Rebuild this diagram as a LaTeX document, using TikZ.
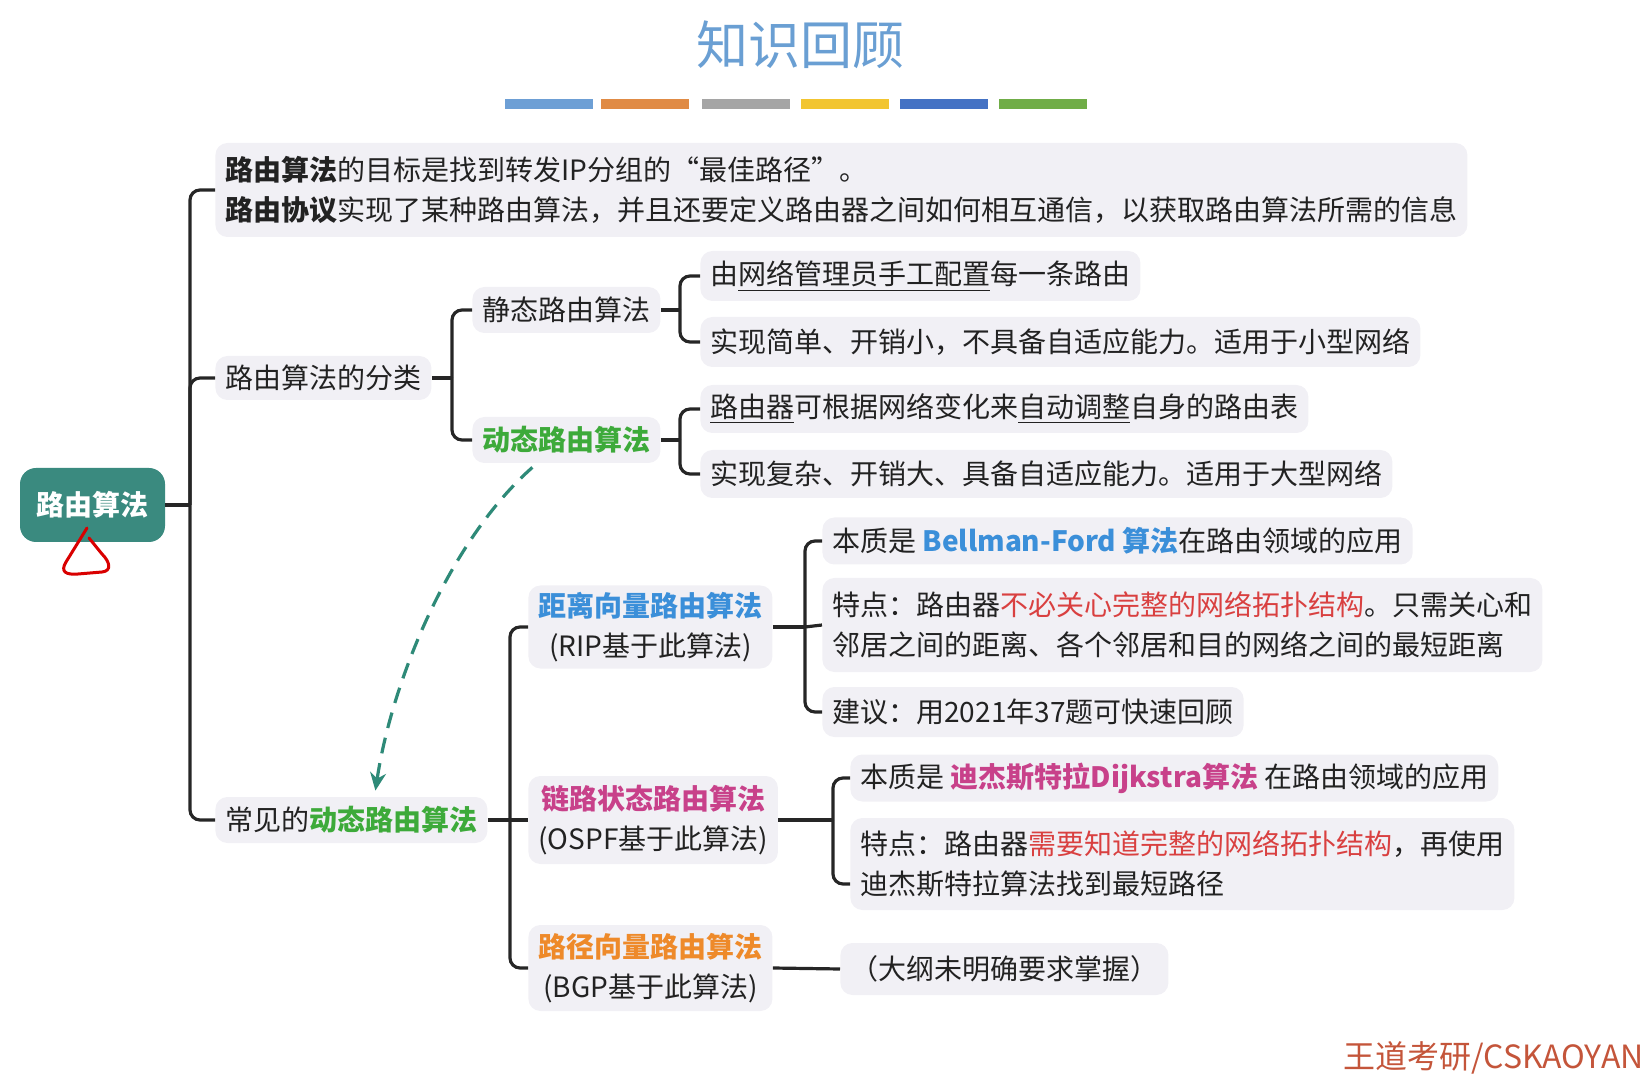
\documentclass[tikz,border=0pt]{standalone}
\usepackage{fontspec}
\setmainfont{Noto Sans CJK SC}
\usetikzlibrary{arrows.meta}
\definecolor{boxgray}{HTML}{F1F0F5}
\definecolor{teal}{HTML}{3A8A7F}
\definecolor{arrteal}{HTML}{2E8A78}
\definecolor{dgreen}{HTML}{3DAA3A}
\definecolor{dblue}{HTML}{3B8FD9}
\definecolor{dmag}{HTML}{C8418A}
\definecolor{dorange}{HTML}{EE8A2A}
\definecolor{dred}{HTML}{D94040}
\definecolor{titleblue}{HTML}{6A9FD3}
\definecolor{txt}{HTML}{222222}
\definecolor{barA}{HTML}{6D9FD5}
\definecolor{barB}{HTML}{E08B45}
\definecolor{barC}{HTML}{A5A5A5}
\definecolor{barD}{HTML}{F2C530}
\definecolor{barE}{HTML}{4472C4}
\definecolor{barF}{HTML}{70AD47}
\definecolor{wmred}{HTML}{C4553A}
\begin{document}
\begin{tikzpicture}[x=0.5pt,y=-0.5pt,
  font=\fontsize{14}{20}\selectfont,
  box/.style={fill=boxgray, rounded corners=6pt, anchor=west, inner xsep=5pt, inner ysep=0pt, align=left, text=txt},
  cbox/.style={box, align=center},
  rootbox/.style={fill=teal, rounded corners=8pt, text=white, font=\fontsize{14}{20}\selectfont\bfseries, minimum width=72.5pt, minimum height=37pt},
  conn/.style={line width=1.6pt, draw=black!85, rounded corners=5pt},
  arrowc/.style={line width=1.6pt, draw=arrteal, dash pattern=on 8pt off 5pt, -{Stealth[length=9pt,width=8pt]}},
  titlestyle/.style={text=titleblue, font=\fontsize{26}{30}\selectfont}
]
\useasboundingbox (0,0) rectangle (1649,1079);

% title and bars
\node[titlestyle] (title) at (800,45) {知识回顾};
\fill[barA] (505,99) rectangle (593,109);
\fill[barB] (601,99) rectangle (689,109);
\fill[barC] (702,99) rectangle (790,109);
\fill[barD] (801,99) rectangle (889,109);
\fill[barE] (900,99) rectangle (988,109);
\fill[barF] (999,99) rectangle (1087,109);

% root
\node[rootbox] (root) at (92.5,505) {路由算法};
\draw[red!85!black, line width=1.5pt, line join=round, line cap=round]
  (87,528) -- (66,562) .. controls (60,572) and (66,575) .. (78,574)
  -- (102,572) .. controls (112,571) and (110,562) .. (102,554) -- (89,538);

% level 1
\node[box, minimum height=47pt] (n1) at (215,190) {\textbf{路由算法}的目标是找到转发IP分组的“最佳路径”。\\\textbf{路由协议}实现了某种路由算法，并且还要定义路由器之间如何相互通信，以获取路由算法所需的信息};
\node[box, minimum height=22pt] (cls) at (215,378) {路由算法的分类};
\node[box, minimum height=23pt] (cj) at (215,820) {常见的\textcolor{dgreen}{\textbf{动态路由算法}}};

% classification
\node[box, minimum height=23pt] (jt) at (472,310) {静态路由算法};
\node[box, minimum height=23pt] (dt) at (472,440) {\textcolor{dgreen}{\textbf{动态路由算法}}};
\node[box, minimum height=25pt] (s1) at (700,276) {由\underline{网络管理员手工配置}每一条路由};
\node[box, minimum height=25pt] (s2) at (700,342) {实现简单、开销小，不具备自适应能力。适用于小型网络};
\node[box, minimum height=24pt] (d1) at (700,409) {\underline{路由器}可根据网络变化来\underline{自动调整}自身的路由表};
\node[box, minimum height=24pt] (d2) at (700,474) {实现复杂、开销大、具备自适应能力。适用于大型网络};

% common dynamic algorithms
\node[cbox, minimum height=41.5pt] (dv) at (528,627) {\textcolor{dblue}{\textbf{距离向量路由算法}}\\(RIP基于此算法)};
\node[cbox, minimum height=44pt] (ls) at (528,820) {\textcolor{dmag}{\textbf{链路状态路由算法}}\\(OSPF基于此算法)};
\node[cbox, minimum height=43pt] (pv) at (528,968) {\textcolor{dorange}{\textbf{路径向量路由算法}}\\(BGP基于此算法)};

\node[box, minimum height=23.5pt] (dv1) at (822,541) {本质是 \textcolor{dblue}{\textbf{Bellman-Ford 算法}}在路由领域的应用};
\node[box, minimum height=47pt] (dv2) at (822,625) {特点：路由器\textcolor{dred}{不必关心完整的网络拓扑结构}。只需关心和\\邻居之间的距离、各个邻居和目的网络之间的最短距离};
\node[box, minimum height=25pt] (dv3) at (822,712) {建议：用2021年37题可快速回顾};
\node[box, minimum height=23.5pt] (ls1) at (850,778) {本质是 \textcolor{dmag}{\textbf{迪杰斯特拉Dijkstra算法}} 在路由领域的应用};
\node[box, minimum height=46pt] (ls2) at (850,864) {特点：路由器\textcolor{dred}{需要知道完整的网络拓扑结构}，再使用\\迪杰斯特拉算法找到最短路径};
\node[box, minimum height=26pt] (pv1) at (840,969) {（大纲未明确要求掌握）};

% junctions
\coordinate (jA) at (190,505);
\coordinate (jB) at (452,378);
\coordinate (jC) at (680,310);
\coordinate (jD) at (680,440);
\coordinate (jE) at (510,820);
\coordinate (jF) at (805,627);
\coordinate (jG) at (833,820);

\draw[conn] (root.east) -- (jA);
\draw[conn] (jA) |- (n1.west);
\draw[conn] (jA) |- (cls.west);
\draw[conn] (jA) |- (cj.west);

\draw[conn] (cls.east) -- (jB);
\draw[conn] (jB) |- (jt.west);
\draw[conn] (jB) |- (dt.west);

\draw[conn] (jt.east) -- (jC);
\draw[conn] (jC) |- (s1.west);
\draw[conn] (jC) |- (s2.west);
\draw[conn] (dt.east) -- (jD);
\draw[conn] (jD) |- (d1.west);
\draw[conn] (jD) |- (d2.west);

\draw[conn] (cj.east) -- (jE);
\draw[conn] (jE) |- (dv.west);
\draw[conn] (jE) -- (ls.west);
\draw[conn] (jE) |- (pv.west);

\draw[conn] (dv.east) -- (jF);
\draw[conn] (jF) |- (dv1.west);
\draw[conn] (jF) -- (dv2.west);
\draw[conn] (jF) |- (dv3.west);

\draw[conn] (ls.east) -- (jG);
\draw[conn] (jG) |- (ls1.west);
\draw[conn] (jG) |- ([yshift=-10pt]ls2.west);

\draw[conn] (pv.east) -- (pv1.west);

% dashed arrow
\draw[arrowc] ([xshift=-17pt,yshift=-2pt]dt.south) .. controls (450,540) and (392,680) .. ([xshift=12pt,yshift=3pt]cj.north);

% watermark
\node[anchor=south east, inner sep=0pt, text=wmred, font=\fontsize{16}{18}\selectfont] (wm) at (1644,1075) {王道考研/CSKAOYAN};
\end{tikzpicture}
\end{document}
